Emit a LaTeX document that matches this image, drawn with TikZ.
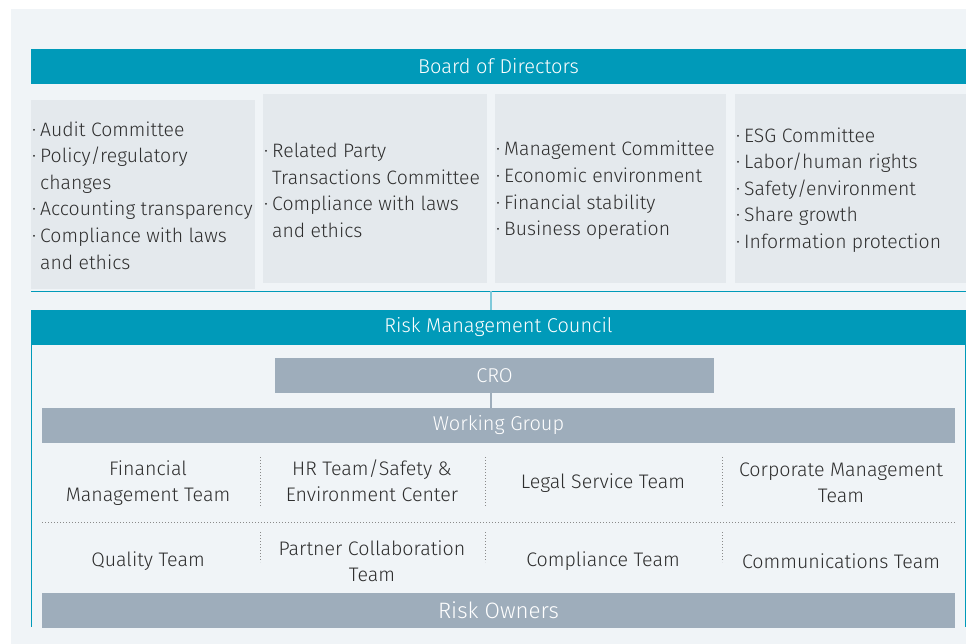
\documentclass[tikz,border=0pt]{standalone}
\usepackage{fontspec}
\setmainfont{Fira Sans}[UprightFont=* Light]
\definecolor{teal}{HTML}{009AB9}
\definecolor{lteal}{HTML}{7FC9DA}
\definecolor{bgc}{HTML}{F0F4F7}
\definecolor{boxc}{HTML}{E4E9ED}
\definecolor{barc}{HTML}{9EADBB}
\definecolor{txt}{HTML}{2E2E2E}
\definecolor{sepc}{HTML}{8A8A8A}
\tikzset{
  x=1pt,y=-1pt,
  tealbar/.style={fill=teal,text=white,minimum height=35pt,inner sep=0pt,font=\fontsize{20}{22}\selectfont},
  greybar/.style={fill=barc,text=white,minimum height=35pt,inner sep=0pt,font=\fontsize{20}{22}\selectfont},
  combox/.style={fill=boxc,inner sep=0pt,minimum width=224pt,minimum height=189pt},
  comtext/.style={anchor=west,inner sep=0pt,align=left,text=txt,font=\fontsize{19.4}{26.6}\selectfont},
  teamtext/.style={inner sep=0pt,align=center,text=txt,font=\fontsize{19.6}{26}\selectfont},
  sepline/.style={sepc,line width=0.8pt,dash pattern=on 0.8pt off 2.2pt},
}
\newcommand{\bul}{\llap{·\hspace{4pt}}}
\begin{document}
\begin{tikzpicture}
\useasboundingbox (0,0) rectangle (966,644);
\fill[white] (0,0) rectangle (966,644);
\fill[bgc] (11,9) rectangle (966,644);
% Board
\node[tealbar,minimum width=935pt] (board) at (498.5,66.5) {Board of Directors};
% committees
\node[combox] (c1) at (143,194.5) {};
\node[combox] (c2) at (375,188.5) {};
\node[combox,minimum width=231pt] (c3) at (610.5,188.5) {};
\node[combox,minimum width=231pt] (c4) at (850.5,188.5) {};
\node[comtext] (t1) at (40,195.5) {\bul Audit Committee\\\bul Policy/regulatory\\changes\\\bul Accounting transparency\\\bul Compliance with laws\\and ethics};
\node[comtext] (t2) at (272,190.5) {\bul Related Party\\Transactions Committee\\\bul Compliance with laws\\and ethics};
\node[comtext] (t3) at (504,190.5) {\bul Management Committee\\\bul Economic environment\\\bul Financial stability\\\bul Business operation};
\node[comtext] (t4) at (744,190) {\bul ESG Committee\\\bul Labor/human rights\\\bul Safety/environment\\\bul Share growth\\\bul Information protection};
% line under committees
\coordinate (hl) at (31,291);
\coordinate (hr) at (966,291);
\coordinate (jn) at (491,291);
\draw[teal,line width=1pt] (hl) -- (hr);
% RMC
\node[tealbar,minimum width=935pt] (rmc) at (498.5,327.5) {Risk Management Council};
\draw[lteal,line width=1.5pt] (jn) -- (jn |- rmc.north);
\coordinate (fl) at (31.5,627);
\coordinate (fr) at (965,627);
\draw[teal,line width=0.8pt] (rmc.south west -| fl) -- (fl);
\draw[teal,line width=0.8pt] (rmc.south east -| fr) -- (fr);
% CRO
\node[greybar,minimum width=439pt] (cro) at (494.5,375.5) {CRO};
\node[greybar,minimum width=913pt] (wg) at (498.5,425.5) {Working Group};
\draw[barc,line width=1.5pt] (cro.south -| jn) -- (wg.north -| jn);
% teams row 1
\node[teamtext] (a1) at (148,483) {Financial\\Management Team};
\node[teamtext] (a2) at (372,481) {HR Team/Safety \&\\Environment Center};
\node[teamtext] (a3) at (603,483) {Legal Service Team};
\node[teamtext] (a4) at (841,483) {Corporate Management\\Team};
% teams row 2
\node[teamtext] (b1) at (148,561) {Quality Team};
\node[teamtext] (b2) at (372,561.5) {Partner Collaboration\\Team};
\node[teamtext] (b3) at (603,561) {Compliance Team};
\node[teamtext] (b4) at (841,561) {Communications Team};
% separators
\foreach \xx/\nm in {260/s1,485/s2,722/s3}{
  \coordinate (\nm u) at (\xx,457);
  \coordinate (\nm v) at (\xx,507);
  \coordinate (\nm w) at (\xx,532);
  \coordinate (\nm z) at (\xx,562);
  \draw[sepline] (\nm u) -- (\nm v);
  \draw[sepline] (\nm w) -- (\nm z);
}
\coordinate (dl) at (42,522);
\coordinate (dr) at (955,522);
\draw[sepline] (dl) -- (dr);
% Risk owners
\node[greybar,minimum width=913pt,font=\fontsize{22.3}{24}\selectfont] (ro) at (498.5,610.5) {Risk Owners};
\end{tikzpicture}
\end{document}
